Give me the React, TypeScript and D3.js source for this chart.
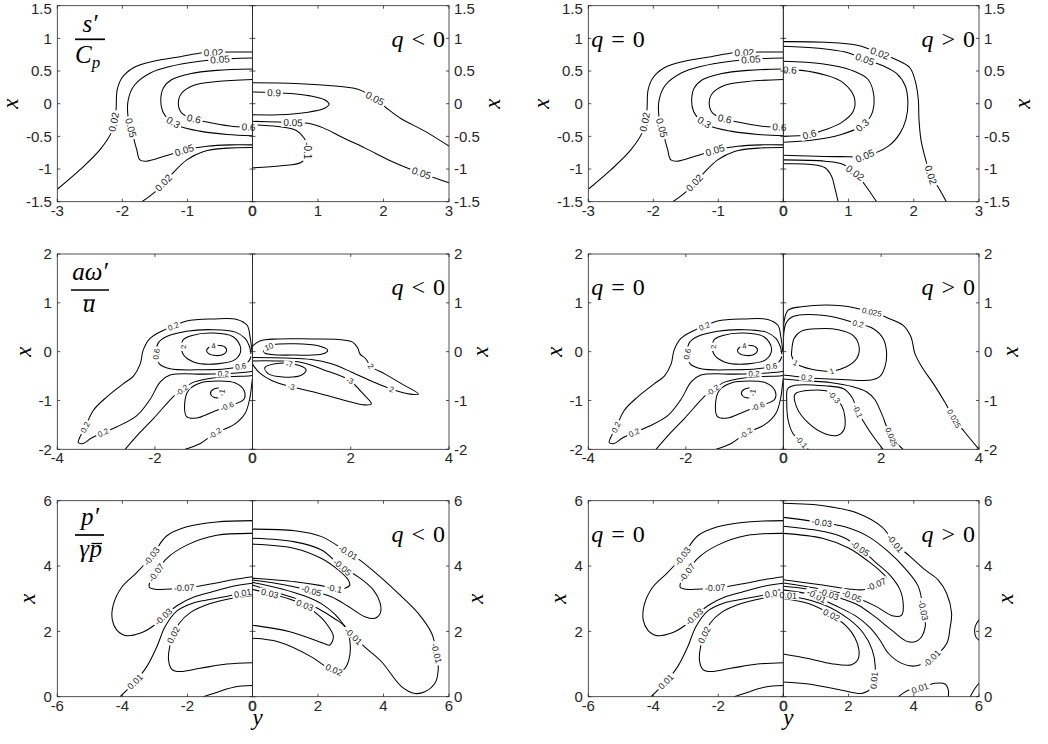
import React, { useEffect, useRef } from "react";
import * as d3 from "d3";

type Pt = [number, number];
type Contour = { lv: string; pts: Pt[]; lab: Pt[]; closed?: boolean };

// points are [y, x] in data units (y horizontal, x vertical)

// ── s'/Cp ───────────────────────────────────────────────────────────────
const S_Q0: Contour[] = [
  { lv: "0.02", pts: [[-3.0, -1.31], [-2.65, -1.01], [-2.34, -0.7], [-2.16, -0.42], [-2.1, -0.12], [-2.08, 0.21], [-2.01, 0.39], [-1.83, 0.55], [-1.52, 0.65], [-1.11, 0.72], [-0.75, 0.78], [0, 0.79]], lab: [[-2.13, -0.28], [-0.6, 0.785]] },
  { lv: "0.05", pts: [[0, 0.7], [-0.34, 0.69], [-0.81, 0.65], [-1.27, 0.57], [-1.57, 0.47], [-1.81, 0.29], [-1.91, 0.06], [-1.91, -0.22], [-1.84, -0.48], [-1.78, -0.7], [-1.73, -0.86], [-1.63, -0.88], [-1.37, -0.81], [-1.01, -0.7], [-0.7, -0.65], [-0.34, -0.63], [0, -0.63]], lab: [[-0.5, 0.68], [-1.87, -0.37], [-1.05, -0.71]] },
  { lv: "0.3", pts: [[0, 0.53], [-0.55, 0.51], [-0.96, 0.46], [-1.24, 0.37], [-1.37, 0.24], [-1.41, 0.06], [-1.38, -0.12], [-1.29, -0.24], [-1.11, -0.35], [-0.81, -0.42], [-0.39, -0.47], [0, -0.49]], lab: [[-1.22, -0.29]] },
  { lv: "0.6", pts: [[0, 0.37], [-0.55, 0.34], [-0.91, 0.28], [-1.09, 0.16], [-1.14, 0.01], [-1.09, -0.14], [-0.91, -0.23], [-0.6, -0.3], [-0.29, -0.35], [0, -0.36]], lab: [[-0.9, -0.23], [-0.06, -0.36]] },
  { lv: "0.02", pts: [[-1.7, -1.5], [-1.52, -1.37], [-1.27, -1.11], [-1.01, -0.86], [-0.75, -0.73], [-0.39, -0.68], [0, -0.67]], lab: [[-1.37, -1.21]] },
];
const S_NEG: Contour[] = [
  { lv: "0.05", pts: [[0, 0.32], [0.65, 0.31], [1.16, 0.28], [1.61, 0.22], [1.87, 0.08], [2.05, -0.07], [2.27, -0.23], [2.63, -0.42], [3.0, -0.65]], lab: [[1.87, 0.08]] },
  { lv: "0.9", pts: [[0, 0.18], [0.49, 0.16], [0.88, 0.12], [1.1, 0.06], [1.17, -0.01], [1.1, -0.07], [0.85, -0.13], [0.39, -0.17], [0, -0.17]], lab: [[0.33, 0.165]] },
  { lv: "0.05", pts: [[0, -0.27], [0.39, -0.28], [0.85, -0.3], [1.08, -0.37], [1.36, -0.51], [1.72, -0.68], [2.12, -0.88], [2.43, -1.01], [3.0, -1.21]], lab: [[0.62, -0.29], [2.58, -1.06]] },
  { lv: "-0.1", pts: [[0, -0.32], [0.39, -0.35], [0.67, -0.41], [0.79, -0.53], [0.84, -0.65], [0.84, -0.79], [0.74, -0.9], [0.44, -0.95], [0, -0.98]], lab: [[0.85, -0.72]] },
];
const S_POS: Contour[] = [
  { lv: "0.02", pts: [[0, 0.95], [0.64, 0.94], [1.15, 0.89], [1.48, 0.77], [1.74, 0.67], [1.94, 0.55], [2.03, 0.32], [2.07, 0.06], [2.08, -0.24], [2.11, -0.55], [2.17, -0.81], [2.26, -1.09], [2.4, -1.32], [2.5, -1.5]], lab: [[1.48, 0.77], [2.26, -1.09]] },
  { lv: "0.05", pts: [[0, 0.88], [0.54, 0.85], [0.95, 0.79], [1.25, 0.68], [1.53, 0.58], [1.74, 0.46], [1.87, 0.27], [1.91, 0.01], [1.88, -0.24], [1.79, -0.45], [1.61, -0.65], [1.25, -0.8], [0.89, -0.81], [0.38, -0.8], [0, -0.79]], lab: [[1.25, 0.68], [1.25, -0.8]] },
  { lv: "0.3", pts: [[0, 0.65], [0.59, 0.61], [1.05, 0.51], [1.3, 0.37], [1.39, 0.11], [1.37, -0.12], [1.3, -0.25], [1.19, -0.35], [0.89, -0.47], [0.43, -0.56], [0, -0.59]], lab: [[1.21, -0.33]] },
  { lv: "0.6", pts: [[0, 0.52], [0.28, 0.51], [0.64, 0.44], [0.92, 0.32], [1.09, 0.09], [1.07, -0.12], [0.89, -0.29], [0.64, -0.4], [0.4, -0.47], [0, -0.5]], lab: [[0.1, 0.515], [0.4, -0.47]] },
  { lv: "0.02", pts: [[0, -0.86], [0.64, -0.88], [0.92, -0.93], [1.1, -1.06], [1.25, -1.24], [1.43, -1.5]], lab: [[1.1, -1.06]] },
  { lv: "", pts: [[0, -0.92], [0.43, -0.93], [0.64, -0.98], [0.74, -1.11], [0.79, -1.29], [0.84, -1.5]], lab: [] },
];

// ── a omega'/u ──────────────────────────────────────────────────────────
const W_Q0: Contour[] = [
  { lv: "0.2", pts: [[-0.01, 0.0], [-0.05, 0.3], [-0.11, 0.54], [-0.32, 0.66], [-0.8, 0.67], [-1.35, 0.63], [-1.62, 0.52], [-1.82, 0.44], [-2.1, 0.27], [-2.24, 0.03], [-2.3, -0.25], [-2.44, -0.5], [-2.65, -0.66], [-2.99, -0.93], [-3.26, -1.2], [-3.43, -1.55], [-3.55, -1.78], [-3.57, -1.86], [-3.47, -1.88], [-3.3, -1.77], [-3.06, -1.66], [-2.78, -1.54], [-2.37, -1.31], [-2.1, -0.98], [-1.89, -0.62], [-1.69, -0.48], [-1.0, -0.46], [-0.55, -0.45], [-0.05, -0.41], [0, -0.4]], lab: [[-1.62, 0.52], [-3.43, -1.55], [-3.06, -1.66], [-0.6, -0.45]] },
  { lv: "0.6", pts: [[-0.03, -0.05], [-0.06, 0.1], [-0.15, 0.27], [-0.35, 0.4], [-0.8, 0.45], [-1.35, 0.42], [-1.76, 0.31], [-1.93, 0.18], [-1.97, -0.05], [-1.91, -0.25], [-1.69, -0.35], [-1.0, -0.37], [-0.53, -0.35], [-0.24, -0.3], [-0.08, -0.2], [-0.03, -0.1]], lab: [[-1.97, -0.05], [-0.24, -0.3]] },
  { lv: "2", closed: true, pts: [[-1.43, 0.23], [-1.24, 0.33], [-0.8, 0.38], [-0.39, 0.3], [-0.24, 0.06], [-0.35, -0.16], [-0.73, -0.25], [-1.21, -0.21], [-1.43, -0.04]], lab: [[-1.44, 0.1]] },
  { lv: "4", closed: true, pts: [[-0.94, 0.03], [-0.85, 0.11], [-0.73, 0.13], [-0.56, 0.09], [-0.53, 0.02], [-0.6, -0.06], [-0.75, -0.08], [-0.9, -0.04]], lab: [[-0.8, 0.12]] },
  { lv: "-0.2", pts: [[-2.61, -2.0], [-2.3, -1.65], [-2.03, -1.37], [-1.59, -0.89], [-1.45, -0.79], [-1.24, -0.64], [-0.94, -0.56], [-0.46, -0.51], [-0.08, -0.5], [0, -0.49]], lab: [[-1.45, -0.79]] },
  { lv: "-0.2", pts: [[-1.38, -2.0], [-1.07, -1.88], [-0.77, -1.67], [-0.39, -1.5], [-0.15, -1.26], [-0.05, -0.93], [-0.02, -0.7], [0, -0.55]], lab: [[-0.77, -1.67]] },
  { lv: "-0.6", closed: true, pts: [[-1.35, -1.33], [-1.39, -1.06], [-1.31, -0.79], [-1.07, -0.64], [-0.7, -0.6], [-0.35, -0.64], [-0.17, -0.8], [-0.18, -0.98], [-0.52, -1.12], [-0.85, -1.25], [-1.15, -1.36]], lab: [[-0.52, -1.12]] },
  { lv: "-1", closed: true, pts: [[-0.62, -0.76], [-0.8, -0.77], [-0.86, -0.86], [-0.78, -0.94], [-0.64, -0.92]], lab: [[-0.62, -0.84]] },
];
const W_NEG: Contour[] = [
  { lv: "10", closed: true, pts: [[0.24, 0.06], [0.42, 0.14], [0.86, 0.16], [1.34, 0.12], [1.53, 0.03], [1.42, -0.05], [0.86, -0.07], [0.39, -0.06], [0.24, -0.02]], lab: [[0.33, 0.11]] },
  { lv: "2", pts: [[0, 0.11], [0.15, 0.22], [0.52, 0.26], [1.2, 0.26], [1.75, 0.25], [2.03, 0.2], [2.14, 0.08], [2.19, -0.05], [2.3, -0.14], [2.41, -0.3], [2.7, -0.46], [3.04, -0.66], [3.38, -0.87], [3.21, -0.87], [2.83, -0.77], [2.46, -0.62], [2.02, -0.42], [1.61, -0.25], [1.2, -0.16], [0.66, -0.13], [0, -0.12]], lab: [[2.41, -0.3], [2.83, -0.77]] },
  { lv: "-3", pts: [[0, -0.19], [0.46, -0.19], [1.0, -0.22], [1.44, -0.37], [1.98, -0.59], [2.22, -0.83], [2.42, -1.07], [2.29, -1.09], [1.81, -0.98], [1.27, -0.83], [0.79, -0.72], [0.39, -0.59], [0.15, -0.44], [0.03, -0.3], [0, -0.25]], lab: [[1.98, -0.59], [0.79, -0.72]] },
  { lv: "-7", closed: true, pts: [[0.25, -0.33], [0.46, -0.25], [0.86, -0.26], [1.09, -0.37], [1.0, -0.48], [0.62, -0.52], [0.32, -0.45]], lab: [[0.75, -0.25]] },
];
const W_POS: Contour[] = [
  { lv: "0.025", pts: [[0, 0.1], [0.02, 0.64], [0.1, 0.85], [0.37, 0.92], [1.19, 0.94], [1.81, 0.81], [2.11, 0.7], [2.45, 0.54], [2.61, 0.3], [2.69, -0.04], [2.83, -0.31], [3.07, -0.66], [3.3, -1.03], [3.49, -1.37], [3.71, -1.65], [4.0, -2.0]], lab: [[1.81, 0.81], [3.49, -1.37]] },
  { lv: "0.2", pts: [[0, 0.03], [0.05, 0.57], [0.2, 0.72], [0.85, 0.74], [1.53, 0.57], [1.84, 0.47], [2.04, 0.27], [2.11, -0.01], [2.08, -0.3], [1.98, -0.5], [1.8, -0.58], [1.2, -0.57], [0.72, -0.55], [0.48, -0.53], [0.1, -0.49], [0, -0.48]], lab: [[1.53, 0.57], [0.48, -0.53]] },
  { lv: "1", closed: true, pts: [[0.17, -0.01], [0.22, 0.27], [0.37, 0.42], [0.72, 0.47], [1.12, 0.45], [1.43, 0.33], [1.55, 0.1], [1.5, -0.14], [1.29, -0.31], [0.99, -0.4], [0.58, -0.36], [0.37, -0.3], [0.25, -0.23], [0.17, -0.08]], lab: [[0.99, -0.4], [0.25, -0.23]] },
  { lv: "0.025", pts: [[0, -0.56], [0.5, -0.6], [0.95, -0.63], [1.43, -0.72], [1.7, -0.82], [1.87, -0.98], [2.01, -1.27], [2.21, -1.75], [2.45, -2.0]], lab: [[2.21, -1.75]] },
  { lv: "-0.1", pts: [[0.51, -2.0], [0.37, -1.85], [0.2, -1.68], [0.1, -1.41], [0.07, -1.0], [0.09, -0.76], [0.24, -0.69], [0.85, -0.7], [1.23, -0.76], [1.4, -0.93], [1.52, -1.22], [1.67, -1.48], [1.87, -1.78], [2.04, -2.0]], lab: [[0.37, -1.85], [1.52, -1.22]] },
  { lv: "-0.3", closed: true, pts: [[0.24, -0.87], [0.58, -0.79], [0.95, -0.83], [1.04, -0.93], [1.19, -1.1], [1.26, -1.34], [1.24, -1.6], [1.12, -1.71], [0.85, -1.68], [0.51, -1.46], [0.27, -1.13]], lab: [[1.04, -0.93]] },
];

// ── p'/gamma p ──────────────────────────────────────────────────────────
const P_Q0: Contour[] = [
  { lv: "-0.03", pts: [[0, 5.39], [-1.1, 5.35], [-2.02, 5.2], [-2.64, 4.92], [-3.1, 4.3], [-3.56, 3.8], [-4.02, 3.35], [-4.28, 2.81], [-4.31, 2.35], [-4.17, 2.04], [-3.89, 1.87], [-3.46, 1.94], [-3.03, 2.18], [-2.74, 2.45], [-2.3, 2.8], [-1.8, 3.05], [-1.28, 3.2], [-0.6, 3.38], [0, 3.47]], lab: [[-3.1, 4.3], [-2.74, 2.45]] },
  { lv: "-0.07", pts: [[0, 5.0], [-1.1, 4.94], [-2.02, 4.64], [-2.64, 4.23], [-2.96, 3.8], [-3.15, 3.52], [-3.17, 3.35], [-3.0, 3.29], [-2.0, 3.34], [-1.3, 3.45], [-0.6, 3.58], [0, 3.67]], lab: [[-2.96, 3.8], [-2.1, 3.34]] },
  { lv: "0.01", pts: [[-4.07, 0], [-3.61, 0.46], [-3.25, 0.92], [-2.94, 1.53], [-2.69, 2.14], [-2.33, 2.62], [-1.82, 2.87], [-1.28, 2.98], [-0.3, 3.17], [0, 3.22]], lab: [[-3.61, 0.46], [-0.3, 3.17]] },
  { lv: "0.02", pts: [[0, 3.1], [-0.7, 3.0], [-1.3, 2.85], [-1.9, 2.58], [-2.25, 2.25], [-2.43, 1.89], [-2.55, 1.5], [-2.58, 1.12], [-2.48, 0.84], [-2.23, 0.77], [-1.61, 0.87], [-0.79, 1.0], [0, 1.04]], lab: [[-2.43, 1.89]] },
  { lv: "", pts: [[-1.51, 0], [-1.2, 0.1], [-0.58, 0.29], [0, 0.34]], lab: [] },
];
const P_NEG: Contour[] = [
  { lv: "-0.01", pts: [[0, 5.13], [1.29, 5.08], [2.11, 4.9], [2.92, 4.41], [3.28, 4.18], [3.84, 3.72], [4.45, 3.16], [5.06, 2.55], [5.47, 1.94], [5.62, 1.33], [5.67, 0.82], [5.57, 0.41], [5.26, 0.15], [4.96, 0.1], [4.55, 0.31], [3.94, 1.07], [3.45, 1.5], [3.08, 1.85], [2.82, 2.16], [2.52, 2.52], [2.11, 2.84], [1.6, 3.08], [0.9, 3.3], [0, 3.5]], lab: [[2.92, 4.41], [5.62, 1.33], [3.08, 1.85]] },
  { lv: "-0.05", pts: [[0, 4.85], [1.29, 4.74], [2.11, 4.49], [2.74, 3.96], [3.23, 3.67], [3.69, 3.27], [3.9, 2.86], [3.9, 2.55], [3.74, 2.4], [3.43, 2.45], [2.93, 2.76], [2.41, 3.06], [1.8, 3.24], [1.0, 3.42], [0, 3.57]], lab: [[2.74, 3.96], [1.8, 3.24]] },
  { lv: "-0.1", pts: [[0, 4.67], [1.29, 4.54], [2.11, 4.23], [2.62, 3.88], [2.92, 3.58], [2.97, 3.42], [2.82, 3.32], [2.57, 3.3], [2.1, 3.4], [1.3, 3.52], [0, 3.63]], lab: [[2.5, 3.31]] },
  { lv: "0.02", pts: [[0, 1.79], [0.78, 1.68], [1.8, 1.22], [2.2, 0.95], [2.49, 0.82], [2.77, 0.82], [2.94, 1.12], [2.97, 1.73], [2.82, 2.15], [2.52, 2.38], [2.0, 2.7], [1.4, 2.98], [0.7, 3.2], [0, 3.42]], lab: [[2.49, 0.82]] },
  { lv: "0.03", pts: [[0, 3.28], [0.53, 3.16], [1.1, 3.0], [1.6, 2.8], [2.1, 2.42], [2.35, 2.1], [2.47, 1.84], [2.36, 1.58], [2.16, 1.64], [1.14, 1.99], [0, 2.19]], lab: [[0.53, 3.16], [1.6, 2.8]] },
];
const P_POS: Contour[] = [
  { lv: "-0.01", pts: [[0, 5.92], [1.28, 5.84], [2.3, 5.61], [3.02, 5.2], [3.43, 4.69], [3.89, 4.29], [4.35, 3.88], [4.75, 3.57], [5.01, 3.16], [5.16, 2.55], [5.11, 2.09], [5.01, 1.63], [4.55, 1.17], [4.04, 0.94], [3.63, 1.02], [3.22, 1.33], [2.95, 1.75], [2.65, 2.12], [2.25, 2.45], [1.75, 2.72], [1.28, 2.94], [1.02, 3.08], [0, 3.27]], lab: [[3.43, 4.69], [4.55, 1.17], [1.02, 3.08]] },
  { lv: "-0.03", pts: [[0, 5.49], [1.18, 5.33], [1.89, 5.2], [2.61, 4.9], [3.22, 4.44], [3.73, 3.93], [4.14, 3.37], [4.29, 2.65], [4.35, 2.14], [4.14, 1.73], [3.83, 1.68], [3.32, 2.04], [2.81, 2.45], [2.3, 2.8], [1.8, 3.0], [1.33, 3.16], [0.7, 3.3], [0, 3.38]], lab: [[1.18, 5.33], [4.29, 2.65], [1.4, 3.15]] },
  { lv: "-0.05", pts: [[0, 5.22], [1.28, 5.05], [1.9, 4.85], [2.35, 4.54], [2.81, 4.13], [3.27, 3.72], [3.58, 3.27], [3.68, 2.76], [3.63, 2.5], [3.37, 2.47], [2.81, 2.78], [2.1, 3.08], [1.28, 3.27], [0, 3.48]], lab: [[2.35, 4.54], [2.1, 3.08]] },
  { lv: "-0.07", pts: [[0, 5.0], [1.2, 4.85], [2.0, 4.55], [2.6, 4.15], [3.0, 3.82], [3.17, 3.62], [3.05, 3.52], [2.81, 3.42], [2.5, 3.28], [2.0, 3.3], [1.2, 3.42], [0, 3.58]], lab: [[2.85, 3.44]] },
  { lv: "0.01", pts: [[0, 3.11], [0.15, 3.1], [1.28, 2.8], [2.0, 2.38], [2.45, 1.95], [2.72, 1.45], [2.82, 0.92], [2.78, 0.46], [2.68, 0.24], [2.4, 0.1], [1.79, 0.2], [0.77, 0.39], [0, 0.45]], lab: [[0.15, 3.1], [2.79, 0.5]] },
  { lv: "0.02", pts: [[0, 3.0], [0.77, 2.85], [1.48, 2.5], [1.94, 2.15], [2.2, 1.8], [2.32, 1.43], [2.28, 1.12], [2.1, 0.98], [1.48, 1.01], [0.77, 1.17], [0, 1.31]], lab: [[1.48, 2.5]] },
  { lv: "0.01", pts: [[3.53, 0], [3.83, 0.2], [4.19, 0.26], [4.65, 0.41], [4.96, 0.39], [5.06, 0.2], [5.06, 0]], lab: [[4.19, 0.27]] },
  { lv: "", pts: [[6.0, 2.35], [5.88, 2.14], [5.9, 1.84], [6.0, 1.73]], lab: [] },
  { lv: "", pts: [[5.73, 0], [5.88, 0.26], [6.0, 0.41]], lab: [] },
];

// ticks
const S_YTICKS = [-1.5, -1, -0.5, 0, 0.5, 1, 1.5];
const S_LTICKS = [-3, -2, -1, 0];
const S_RTICKS = [0, 1, 2, 3];
const W_YTICKS = [-2, -1, 0, 1, 2];
const W_LTICKS = [-4, -2, 0];
const W_RTICKS = [0, 2, 4];
const P_YTICKS = [0, 2, 4, 6];
const P_LTICKS = [-6, -4, -2, 0];
const P_RTICKS = [0, 2, 4, 6];

const W = 1048;
const H = 744;
const SANS = "'Liberation Sans', Arial, Helvetica, sans-serif";
const SERIF = "'Liberation Serif', 'Times New Roman', Times, serif";
const AX = "#262626";
const TL = 3;

const ROWS = [
  { top: 5.7, bot: 201.7, xDom: [-1.5, 1.5], yLeft: [-3, 0], yRight: [0, 3], yt: S_YTICKS, tl: S_LTICKS, tr: S_RTICKS, q0: S_Q0, neg: S_NEG, pos: S_POS, fs: 10, xl: 44, xr: 46 },
  { top: 254, bot: 449.3, xDom: [-2, 2], yLeft: [-4, 0], yRight: [0, 4], yt: W_YTICKS, tl: W_LTICKS, tr: W_RTICKS, q0: W_Q0, neg: W_NEG, pos: W_POS, fs: 8, xl: 31, xr: 34 },
  { top: 500.7, bot: 696.7, xDom: [0, 6], yLeft: [-6, 0], yRight: [0, 6], yt: P_YTICKS, tl: P_LTICKS, tr: P_RTICKS, q0: P_Q0, neg: P_NEG, pos: P_POS, fs: 9, xl: 27, xr: 29 },
];
const COLS = [
  { L: 57.3, C: 252.5, R: 449, op: "<" },
  { L: 588.3, C: 783.3, R: 979, op: ">" },
];

function nearest(poly: number[][], p: number[]) {
  let best = { d: Infinity, x: p[0], y: p[1], ang: 0 };
  for (let i = 0; i < poly.length - 1; i++) {
    const a = poly[i], b = poly[i + 1];
    const dx = b[0] - a[0], dy = b[1] - a[1];
    const l2 = dx * dx + dy * dy;
    let t = l2 ? ((p[0] - a[0]) * dx + (p[1] - a[1]) * dy) / l2 : 0;
    t = Math.max(0, Math.min(1, t));
    const qx = a[0] + t * dx, qy = a[1] + t * dy;
    const d = Math.hypot(p[0] - qx, p[1] - qy);
    if (d < best.d) {
      let ang = (Math.atan2(dy, dx) * 180) / Math.PI;
      if (ang > 90) ang -= 180;
      if (ang < -90) ang += 180;
      best = { d, x: qx, y: qy, ang };
    }
  }
  return best;
}

export default function App() {
  const ref = useRef<SVGSVGElement | null>(null);

  useEffect(() => {
    if (!ref.current) return;
    const svg = d3.select(ref.current);
    svg.selectAll("*").remove();
    svg.append("rect").attr("width", W).attr("height", H).attr("fill", "#fff");
    const defs = svg.append("defs");
    const lineLayer = svg.append("g");
    const labelLayer = svg.append("g");
    const axisLayer = svg.append("g");
    const textLayer = svg.append("g");

    ROWS.forEach((row, ri) => {
      const sy = d3.scaleLinear().domain(row.xDom).range([row.bot, row.top]);
      COLS.forEach((col, ci) => {
        const halves = [
          { x0: col.L, x1: col.C, dom: row.yLeft, cs: row.q0, ticks: row.tl, left: true },
          { x0: col.C, x1: col.R, dom: row.yRight, cs: ci === 0 ? row.neg : row.pos, ticks: row.tr, left: false },
        ];
        halves.forEach((h, hi) => {
          const sx = d3.scaleLinear().domain(h.dom).range([h.x0, h.x1]);
          const id = `clip-${ri}-${ci}-${hi}`;
          defs.append("clipPath").attr("id", id).append("rect")
            .attr("x", h.x0).attr("y", row.top)
            .attr("width", h.x1 - h.x0).attr("height", row.bot - row.top);
          const g = lineLayer.append("g").attr("clip-path", `url(#${id})`);

          h.cs.forEach((c) => {
            const line = d3.line<Pt>()
              .x((d) => sx(d[0])).y((d) => sy(d[1]))
              .curve(c.closed ? d3.curveCatmullRomClosed.alpha(0.5) : d3.curveCatmullRom.alpha(0.5));
            g.append("path").attr("d", line(c.pts) || "")
              .attr("fill", "none").attr("stroke", "#000").attr("stroke-width", 1.05);

            const poly = c.pts.map((d) => [sx(d[0]), sy(d[1])]);
            if (c.closed) poly.push(poly[0]);
            c.lab.forEach((lp) => {
              const hit = nearest(poly, [sx(lp[0]), sy(lp[1])]);
              const lg = labelLayer.append("g")
                .attr("transform", `translate(${hit.x},${hit.y}) rotate(${hit.ang})`);
              const bg = lg.append("rect").attr("fill", "#fff");
              const t = lg.append("text")
                .attr("text-anchor", "middle").attr("dy", "0.35em")
                .attr("font-family", SANS).attr("font-size", row.fs)
                .attr("fill", "#1a1a1a").text(c.lv);
              const len = (t.node() as SVGTextElement).getComputedTextLength();
              bg.attr("x", -len / 2 - 2).attr("y", -row.fs * 0.45)
                .attr("width", len + 4).attr("height", row.fs * 0.9);
            });
          });

          // ── axes box + ticks ──
          axisLayer.append("rect")
            .attr("x", h.x0).attr("y", row.top)
            .attr("width", h.x1 - h.x0).attr("height", row.bot - row.top)
            .attr("fill", "none").attr("stroke", AX).attr("stroke-width", 0.8);

          h.ticks.forEach((v) => {
            const x = sx(v);
            axisLayer.append("line").attr("x1", x).attr("x2", x).attr("y1", row.bot).attr("y2", row.bot - TL)
              .attr("stroke", AX).attr("stroke-width", 0.8);
            axisLayer.append("line").attr("x1", x).attr("x2", x).attr("y1", row.top).attr("y2", row.top + TL)
              .attr("stroke", AX).attr("stroke-width", 0.8);
            // the shared 0 at the divider is written once (both halves put it there)
            if (h.left && v === 0) return;
            axisLayer.append("text")
              .attr("x", x).attr("y", row.bot + 14)
              .attr("text-anchor", "middle").attr("font-family", SANS).attr("font-size", 15)
              .attr("fill", AX)
              .attr("stroke", v === 0 ? AX : "none").attr("stroke-width", v === 0 ? 0.45 : 0)
              .text(String(v));
          });
          row.yt.forEach((v) => {
            const y = sy(v);
            axisLayer.append("line").attr("x1", h.x0).attr("x2", h.x0 + TL).attr("y1", y).attr("y2", y)
              .attr("stroke", AX).attr("stroke-width", 0.8);
            axisLayer.append("line").attr("x1", h.x1).attr("x2", h.x1 - TL).attr("y1", y).attr("y2", y)
              .attr("stroke", AX).attr("stroke-width", 0.8);
            axisLayer.append("text")
              .attr("x", h.left ? h.x0 - 5.5 : h.x1 + 5).attr("y", Math.max(y, 8.2)).attr("dy", "0.36em")
              .attr("text-anchor", h.left ? "end" : "start")
              .attr("font-family", SANS).attr("font-size", 15).attr("fill", AX).text(String(v));
          });
        });

        // ── "x" axis titles ──
        const cy = (row.top + row.bot) / 2;
        [col.L - row.xl, col.R + row.xr].forEach((cx) => {
          textLayer.append("text")
            .attr("transform", `translate(${cx},${cy}) rotate(-90)`)
            .attr("dy", "0.22em").attr("text-anchor", "middle")
            .attr("font-family", SERIF).attr("font-style", "italic").attr("font-size", 23)
            .attr("fill", "#000").text("x");
        });
        if (ri === 2) {
          textLayer.append("text")
            .attr("x", col.C + 5).attr("y", 725).attr("text-anchor", "middle")
            .attr("font-family", SERIF).attr("font-style", "italic").attr("font-size", 23)
            .attr("fill", "#000").text("y");
        }

        // ── q labels ──
        const qLabel = (x: number, anchor: string, op: string) => {
          const t = textLayer.append("text")
            .attr("x", x).attr("y", row.top + 41).attr("text-anchor", anchor)
            .attr("font-family", SERIF).attr("font-size", 24).attr("fill", "#000");
          t.append("tspan").attr("font-style", "italic").text("q");
          t.append("tspan").attr("dx", 8).text(op);
          t.append("tspan").attr("dx", 8).text("0");
        };
        qLabel(col.R - 4, "end", col.op);
        if (ci === 1) qLabel(col.L + 3, "start", "=");
      });
    });

    // ── fraction titles (left column) ──
    const it = (x: number, y: number, s: string, size = 25, anchor = "middle") =>
      textLayer.append("text").attr("x", x).attr("y", y).attr("text-anchor", anchor)
        .attr("font-family", SERIF).attr("font-style", "italic").attr("font-size", size)
        .attr("fill", "#000").text(s);
    const bar = (x1: number, x2: number, y: number, w = 1.7) =>
      textLayer.append("line").attr("x1", x1).attr("x2", x2).attr("y1", y).attr("y2", y)
        .attr("stroke", "#000").attr("stroke-width", w);

    // s'/C_p
    it(90, 31.5, "s\u2032");
    bar(75, 105, 39.3);
    const cp = textLayer.append("text").attr("x", 75).attr("y", 63)
      .attr("font-family", SERIF).attr("font-style", "italic").attr("font-size", 25).attr("fill", "#000");
    cp.append("tspan").text("C");
    cp.append("tspan").attr("font-size", 17).attr("dy", 4.5).text("p");

    // a omega'/u-bar
    it(90, 280, "a\u03C9\u2032");
    bar(71, 109, 290);
    it(89, 312, "u");
    bar(83.5, 95, 300, 1.3);

    // p'/gamma p-bar
    it(90, 525, "p\u2032");
    bar(75, 104, 535);
    it(89, 557, "\u03B3", 25, "end");
    it(89.5, 557, "p", 25, "start");
    bar(91.5, 102, 543.5, 1.3);
  }, []);

  return (
    <svg
      ref={ref}
      width={W}
      height={H}
      style={{ position: "absolute", left: 0, top: 0, display: "block" }}
    />
  );
}
